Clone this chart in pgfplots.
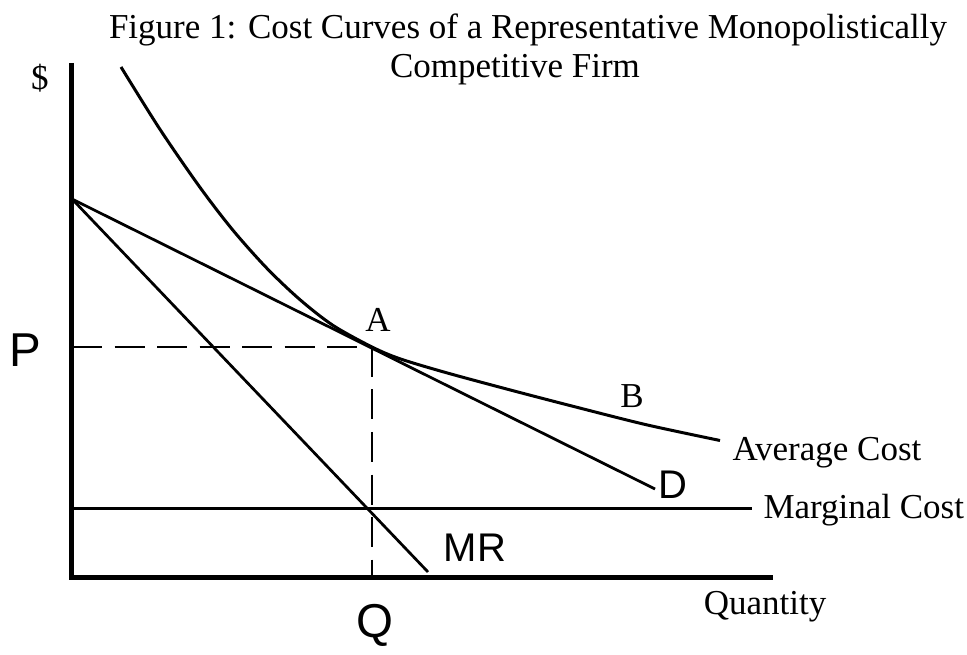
\documentclass[border=0pt]{standalone}
\usepackage{fontspec}
\setmainfont{Liberation Serif}
\newfontfamily\hand{Liberation Sans}
\usepackage{pgfplots}
\pgfplotsset{compat=1.18}

\begin{document}
\begin{tikzpicture}
\begin{axis}[
  scale only axis,
  width=280pt, height=206pt,
  xmin=0, xmax=700, ymin=0, ymax=515,
  axis lines=none,
  clip=false,
  every axis plot/.append style={black, mark=none},
]
% page frame (pixel-like units, 1 unit = 0.4pt)
\path (axis cs:-72,-67) rectangle (axis cs:895,578);

% axes
\addplot[line width=2pt, line join=miter] coordinates {(0,515)(0,0)(701,0)};

% marginal cost
\addplot[line width=1.2pt] coordinates {(0,69)(680,69)};
% demand
\addplot[line width=1.1pt] coordinates {(0,379)(583,89)};
% marginal revenue
\addplot[line width=1.1pt] coordinates {(0,379)(356,6)};
% average cost
\addplot[line width=1.2pt, smooth, tension=0.5] coordinates {
  (49,511)(88,448.6)(128,390.6)(161,347.7)(195,309.6)(228,278.3)(261,252.6)
  (300,231)(328,219.2)(375,205.1)(441,187.3)(508,169.9)(575,153.1)(648,137.5)};
% P and Q guides
\addplot[line width=0.8pt, dash pattern=on 12pt off 5pt] coordinates {(0,231)(300,231)};
\addplot[line width=0.8pt, dash pattern=on 12pt off 5pt] coordinates {(300,231)(300,0)};

% title and labels
\def\fs{\fontsize{14}{17}\selectfont}
\node at (axis cs:456,548) {\fs Figure 1: Cost Curves of a Representative Monopolistically};
\node at (axis cs:443,508) {\fs Competitive Firm};
\node at (axis cs:-32,500) {\fs \$};
\node at (axis cs:306,258) {\fs A};
\node at (axis cs:560,182) {\fs B};
\node[anchor=west, inner sep=0pt] at (axis cs:660,125) {\fs Average Cost};
\node[anchor=west, inner sep=0pt] at (axis cs:691,68) {\fs Marginal Cost};
\node at (axis cs:693,-29) {\fs Quantity};

% handwritten-style labels
\node at (axis cs:-47,228) {\hand\fontsize{19}{20}\selectfont P};
\node at (axis cs:303,-47) {\hand\fontsize{19}{20}\selectfont Q};
\node at (axis cs:403,30) {\hand\fontsize{16}{18}\selectfont MR};
\node at (axis cs:601,93) {\hand\fontsize{16}{18}\selectfont D};
\end{axis}
\end{tikzpicture}
\end{document}
